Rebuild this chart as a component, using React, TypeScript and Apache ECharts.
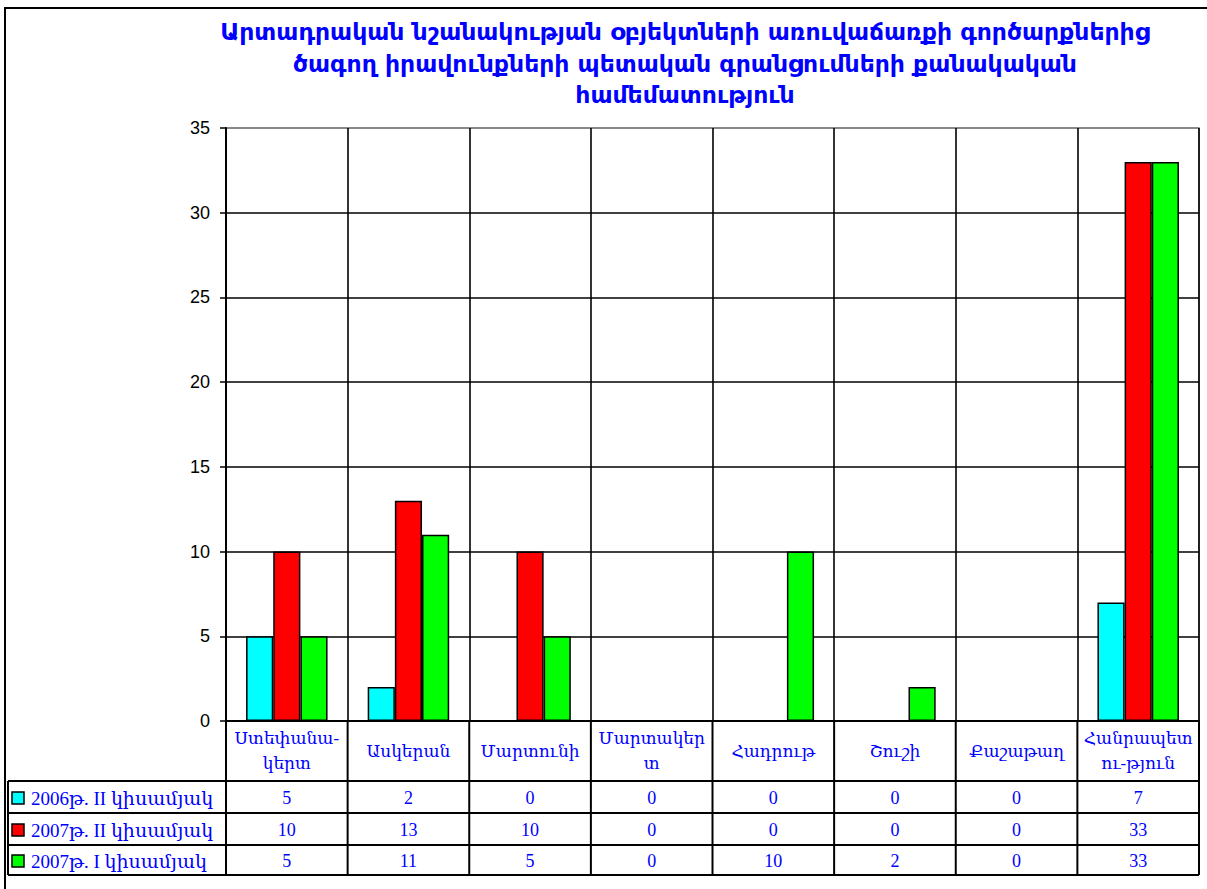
import React, { useEffect, useRef } from "react";
import * as echarts from "echarts";

const titleLines = [
  "Արտադրական նշանակության օբյեկտների առուվաճառքի գործարքներից",
  "ծագող իրավունքների պետական գրանցումների քանակական",
  "համեմատություն",
];

const categories = [
  "Ստեփանա-\nկերտ",
  "Ասկերան",
  "Մարտունի",
  "Մարտակեր\nտ",
  "Հադրութ",
  "Շուշի",
  "Քաշաթաղ",
  "Հանրապետ\nու-թյուն",
];

const seriesNames = ["2006թ. II կիսամյակ", "2007թ. II կիսամյակ", "2007թ. I կիսամյակ"];
const seriesColors = ["#00FFFF", "#FF0000", "#00FF00"];

const h2of2006 = [5, 2, 0, 0, 0, 0, 0, 7];
const h2of2007 = [10, 13, 10, 0, 0, 0, 0, 33];
const h1of2007 = [5, 11, 5, 0, 10, 2, 0, 33];

const seriesValues = [h2of2006, h2of2007, h1of2007];

const yMin = 0;
const yMax = 35;
const yInterval = 5;

const BLUE = "#0000FF";
const SERIF = "'Liberation Serif', 'DejaVu Serif', serif";
const SANS = "'Liberation Sans', 'DejaVu Sans', Arial, sans-serif";

export default function App() {
  const ref = useRef<HTMLDivElement>(null);

  useEffect(() => {
    document.body.style.margin = "0";
    const chart = echarts.init(ref.current!, null, { renderer: "svg" });
    const option: any = {
      animation: false,
      backgroundColor: "#ffffff",
      grid: {
        left: 226,
        right: 8,
        top: 128,
        bottom: 168,
        show: true,
        borderColor: "#808080",
        borderWidth: 1.5,
      },
      xAxis: {
        type: "category",
        data: categories,
        boundaryGap: true,
        axisLine: { show: true, lineStyle: { color: "#000", width: 2 } },
        axisTick: { show: false },
        splitLine: { show: true, lineStyle: { color: "#000", width: 1.6 } },
        axisLabel: {
          interval: 0,
          margin: 30,
          verticalAlign: "middle",
          color: BLUE,
          fontFamily: SERIF,
          fontSize: 17,
          lineHeight: 25,
        },
      },
      yAxis: {
        type: "value",
        min: yMin,
        max: yMax,
        interval: yInterval,
        axisLine: { show: true, lineStyle: { color: "#000", width: 2 } },
        axisTick: { show: true, length: 6, lineStyle: { color: "#000", width: 1.5 } },
        axisLabel: {
          margin: 16,
          color: "#000",
          fontFamily: SANS,
          fontSize: 18,
        },
        splitLine: {
          show: true,
          lineStyle: {
            color: ["#000", "#000", "#000", "#000", "#000", "#000", "#000", "#808080"],
            width: 1.6,
          },
        },
      },
      series: seriesNames.map((name, i) => ({
        name,
        type: "bar",
        data: seriesValues[i],
        barGap: "0%",
        barCategoryGap: "33%",
        itemStyle: { color: seriesColors[i], borderColor: "#000", borderWidth: 1.5 },
      })),
    };
    chart.setOption(option);

    const centers = categories.map((_, i) => chart.convertToPixel({ xAxisIndex: 0 }, i) as number);
    const cw = categories.length > 1 ? centers[1] - centers[0] : 120;
    const y0 = chart.convertToPixel({ yAxisIndex: 0 }, 0) as number;
    const plotLeft = centers[0] - cw / 2;
    const plotRight = centers[centers.length - 1] + cw / 2;
    const tableLeft = 8;
    const headerBottom = y0 + 60;
    const rowH = [32, 32, 30];
    const rowTops: number[] = [headerBottom];
    rowH.forEach((h, i) => rowTops.push(rowTops[i] + h));
    const tableBottom = rowTops[rowTops.length - 1];

    const lineStyle = { stroke: "#000", lineWidth: 2 };
    const g: any[] = [];

    g.push({
      type: "rect",
      shape: { x: 5, y: 8, width: 1240, height: 900 },
      style: { fill: "none", stroke: "#000", lineWidth: 2 },
      silent: true,
      z: 0,
    });

    titleLines.forEach((t, i) => {
      g.push({
        type: "text",
        x: 685,
        y: 32 + i * 31.5,
        style: {
          text: t,
          textAlign: "center",
          textVerticalAlign: "middle",
          fill: BLUE,
          font: `bold 23.5px 'DejaVu Sans', 'Liberation Sans', sans-serif`,
        },
      });
    });

    rowTops.forEach((y) => {
      g.push({ type: "line", shape: { x1: tableLeft, y1: y, x2: plotRight, y2: y }, style: lineStyle });
    });
    g.push({ type: "line", shape: { x1: tableLeft, y1: headerBottom, x2: tableLeft, y2: tableBottom }, style: lineStyle });
    for (let k = 0; k <= categories.length; k++) {
      const x = plotLeft + k * cw;
      g.push({ type: "line", shape: { x1: x, y1: y0, x2: x, y2: tableBottom }, style: lineStyle });
    }

    seriesNames.forEach((name, r) => {
      const cy = (rowTops[r] + rowTops[r + 1]) / 2 + 1;
      g.push({
        type: "rect",
        shape: { x: 12, y: cy - 6, width: 12, height: 12 },
        style: { fill: seriesColors[r], stroke: "#000", lineWidth: 1.5 },
      });
      g.push({
        type: "text",
        x: 31,
        y: cy,
        style: {
          text: name,
          textAlign: "left",
          textVerticalAlign: "middle",
          fill: BLUE,
          font: `19px ${SERIF}`,
        },
      });
      seriesValues[r].forEach((v, i) => {
        g.push({
          type: "text",
          x: centers[i],
          y: cy,
          style: {
            text: String(v),
            textAlign: "center",
            textVerticalAlign: "middle",
            fill: BLUE,
            font: `18px ${SERIF}`,
          },
        });
      });
    });

    chart.setOption({ graphic: g });
    return () => chart.dispose();
  }, []);

  return (
    <div
      ref={ref}
      style={{ position: "absolute", left: 0, top: 0, width: 1207, height: 889 }}
    />
  );
}
